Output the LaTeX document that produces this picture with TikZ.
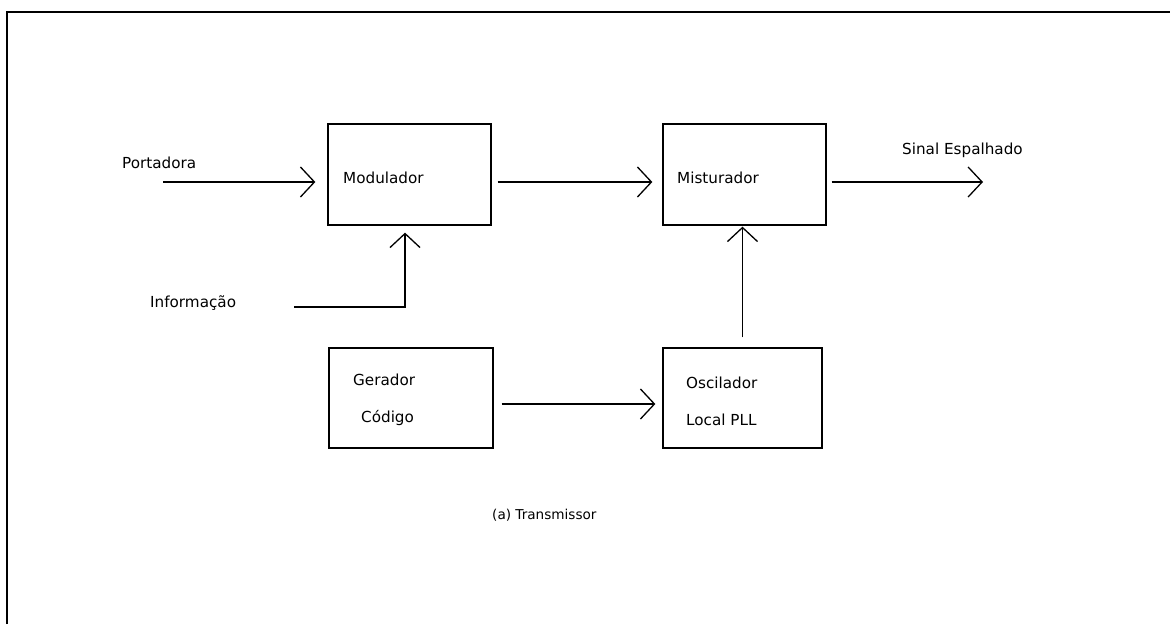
\documentclass[tikz,border=0pt]{standalone}
\usepackage{fontspec}
\setmainfont{DejaVu Sans}
\usetikzlibrary{arrows.meta,positioning}

\begin{document}
\begin{tikzpicture}[x=1pt, y=-1pt,
		bloco/.style={draw, line width=1.3pt, inner sep=0pt, minimum height=101pt},
		rotulo/.style={anchor=west, inner sep=0pt, font=\fontsize{15.2}{18}\selectfont},
		seta/.style={line width=1.3pt, -{Straight Barb[length=14pt, width=30pt]}}]
			%%%%% START %%%%%
			
			\useasboundingbox (0,0) rectangle (1170,624);
			\draw[line width=2pt] (7,624) -- (7,12) -- (1170,12);
			
			\node[bloco, minimum width=163pt] (mod) at (409.5,174.5) {};
			\node[bloco, minimum width=163pt] (mix) at (744.5,174.5) {};
			\node[bloco, minimum width=164pt, minimum height=100pt] (ger) at (411,398) {};
			\node[bloco, minimum width=159pt, minimum height=100pt] (osc) at (742.5,398) {};
			
			\node[rotulo] (tmod) at (343,178) {Modulador};
			\node[rotulo] (tmix) at (677,178) {Misturador};
			\node[rotulo] (tger) at (353,380) {Gerador};
			\node[rotulo] (tcod) at (361,418) {Código};
			\node[rotulo] (tosc) at (686,383) {Oscilador};
			\node[rotulo] (tpll) at (686,420) {Local PLL};
			
			\node[rotulo] (tport) at (122,163) {Portadora};
			\node[rotulo] (tinfo) at (150,303) {Informação};
			\node[rotulo] (tsinal) at (902,150) {Sinal Espalhado};
			\node[rotulo, font=\fontsize{13.6}{16}\selectfont] (ttx) at (492,515) {(a) Transmissor};
			
			\coordinate (port) at (163,182);
			\coordinate (info) at (294,307);
			\coordinate (saida) at (983,182);
			
			\draw[seta, shorten >=12pt] (port) -- (port -| mod.west);
			\draw[seta, shorten >=7pt] (info) -| ([xshift=-4.5pt]mod.south);
			\draw[seta, shorten <=6pt, shorten >=10pt] ([yshift=-7.5pt]mod.east) -- ([yshift=-7.5pt]mix.west);
			\draw[seta, shorten <=5pt] ([yshift=-7.5pt]mix.east) -- (saida);
			\draw[seta, shorten <=8pt, shorten >=7pt] ([yshift=-6pt]ger.east) -- ([yshift=-6pt]ger.east -| osc.west);
			\draw[seta, shorten <=10pt, shorten >=1pt] (osc.north) -- (osc.north |- mix.south);
			
			%%%%% END %%%%%
		\end{tikzpicture}
\end{document}
